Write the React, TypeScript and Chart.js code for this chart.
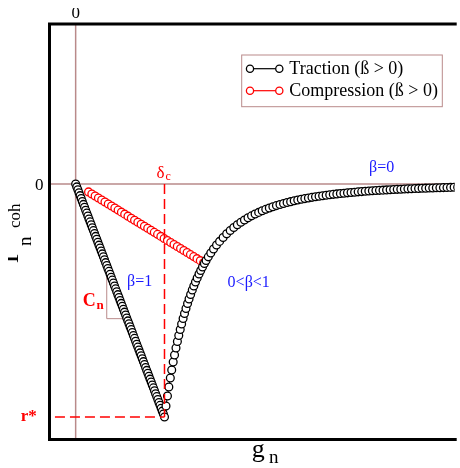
import { useEffect, useRef } from "react";
import { Chart, registerables } from "chart.js";

Chart.register(...registerables);

// Linear loading branch: gap g_n vs cohesive traction r_n (normalised so that δc = 1, r* = -1)
const loadingG = [
  0, 0.0125, 0.025, 0.0375, 0.05, 0.0625, 0.075, 0.0875, 0.1, 0.1125, 0.125, 0.1375, 0.15, 0.1625,
  0.175, 0.1875, 0.2, 0.2125, 0.225, 0.2375, 0.25, 0.2625, 0.275, 0.2875, 0.3, 0.3125, 0.325, 0.3375,
  0.35, 0.3625, 0.375, 0.3875, 0.4, 0.4125, 0.425, 0.4375, 0.45, 0.4625, 0.475, 0.4875, 0.5, 0.5125,
  0.525, 0.5375, 0.55, 0.5625, 0.575, 0.5875, 0.6, 0.6125, 0.625, 0.6375, 0.65, 0.6625, 0.675, 0.6875,
  0.7, 0.7125, 0.725, 0.7375, 0.75, 0.7625, 0.775, 0.7875, 0.8, 0.8125, 0.825, 0.8375, 0.85, 0.8625,
  0.875, 0.8875, 0.9, 0.9125, 0.925, 0.9375, 0.95, 0.9625, 0.975, 0.9875, 1,
];
const loadingR = [
  0, -0.0125, -0.025, -0.0375, -0.05, -0.0625, -0.075, -0.0875, -0.1, -0.1125, -0.125, -0.1375, -0.15, -0.1625,
  -0.175, -0.1875, -0.2, -0.2125, -0.225, -0.2375, -0.25, -0.2625, -0.275, -0.2875, -0.3, -0.3125, -0.325, -0.3375,
  -0.35, -0.3625, -0.375, -0.3875, -0.4, -0.4125, -0.425, -0.4375, -0.45, -0.4625, -0.475, -0.4875, -0.5, -0.5125,
  -0.525, -0.5375, -0.55, -0.5625, -0.575, -0.5875, -0.6, -0.6125, -0.625, -0.6375, -0.65, -0.6625, -0.675, -0.6875,
  -0.7, -0.7125, -0.725, -0.7375, -0.75, -0.7625, -0.775, -0.7875, -0.8, -0.8125, -0.825, -0.8375, -0.85, -0.8625,
  -0.875, -0.8875, -0.9, -0.9125, -0.925, -0.9375, -0.95, -0.9625, -0.975, -0.9875, -1,
];

// Softening branch after δc
const softeningG = [
  1.0169, 1.0333, 1.049, 1.0656, 1.0812, 1.0978, 1.1131, 1.1294, 1.1452, 1.1607, 1.177, 1.1928, 1.2094,
  1.2253, 1.242, 1.2597, 1.2764, 1.2941, 1.3127, 1.3302, 1.3487, 1.3681, 1.3886, 1.4077, 1.4278, 1.4491,
  1.4683, 1.493, 1.521, 1.552, 1.586,
  1.62, 1.66, 1.7, 1.74, 1.78, 1.82, 1.86, 1.9, 1.94, 1.98, 2.02, 2.06, 2.1, 2.14, 2.18, 2.22, 2.26, 2.3,
  2.34, 2.38, 2.42, 2.46, 2.5, 2.54, 2.58, 2.62, 2.66, 2.7, 2.74, 2.78, 2.82, 2.86, 2.9, 2.94, 2.98, 3.02,
  3.06, 3.1, 3.14, 3.18, 3.22, 3.26, 3.3, 3.34, 3.38, 3.42, 3.46, 3.5, 3.54, 3.58, 3.62, 3.66, 3.7, 3.74,
  3.78, 3.82, 3.86, 3.9, 3.94, 3.98, 4.02, 4.06, 4.1, 4.14, 4.18, 4.22, 4.26, 4.3,
];
const softeningR = [
  -0.9528, -0.9099, -0.8712, -0.8326, -0.7983, -0.7639, -0.7339, -0.7039, -0.676, -0.6502, -0.6245, -0.6009,
  -0.5773, -0.5558, -0.5343, -0.5129, -0.4936, -0.4742, -0.4549, -0.4378, -0.4206, -0.4034, -0.3863, -0.3712,
  -0.3562, -0.3412, -0.3283, -0.3127, -0.2962, -0.2793, -0.2621,
  -0.2464, -0.2294, -0.2139, -0.1999, -0.187, -0.1752, -0.1644, -0.1544, -0.1452, -0.1368, -0.129, -0.1218,
  -0.1151, -0.1089, -0.1031, -0.0977, -0.0927, -0.088, -0.0837, -0.0796, -0.0758, -0.0722, -0.0688, -0.0657,
  -0.0627, -0.0599, -0.0573, -0.0549, -0.0525, -0.0503, -0.0482, -0.0463, -0.0444, -0.0426, -0.041, -0.0394,
  -0.0379, -0.0365, -0.0351, -0.0338, -0.0326, -0.0314, -0.0303, -0.0292, -0.0282, -0.0273, -0.0263, -0.0254,
  -0.0246, -0.0238, -0.023, -0.0223, -0.0216, -0.0209, -0.0203, -0.0196, -0.019, -0.0185, -0.0179, -0.0174,
  -0.0169, -0.0164, -0.0159, -0.0155, -0.015, -0.0146, -0.0142, -0.0138,
];

// Compression (unloading towards the origin)
const compressionG = [
  0.145, 0.182, 0.219, 0.256, 0.293, 0.33, 0.367, 0.404, 0.441, 0.478, 0.515, 0.552, 0.589, 0.626, 0.663,
  0.7, 0.737, 0.774, 0.811, 0.848, 0.885, 0.922, 0.959, 0.996, 1.033, 1.07, 1.107, 1.144, 1.181, 1.218,
  1.255, 1.292, 1.329, 1.366, 1.403, 1.44,
];
const compressionR = [
  -0.034, -0.0427, -0.0514, -0.06, -0.0687, -0.0774, -0.0861, -0.0947, -0.1034, -0.1121, -0.1208, -0.1294,
  -0.1381, -0.1468, -0.1555, -0.1642, -0.1728, -0.1815, -0.1902, -0.1989, -0.2075, -0.2162, -0.2249, -0.2336,
  -0.2422, -0.2509, -0.2596, -0.2683, -0.2769, -0.2856, -0.2943, -0.303, -0.3117, -0.3203, -0.329, -0.3377,
];

const seriesNames = ["Traction (ß > 0)", "Compression (ß > 0)"];
const seriesColors = ["#000000", "#ff0000"];

const deltaC = 1;
const rStar = -1;
const gMin = -0.2944;
const gMax = 4.2667;
const rMin = -1.0966;
const rMax = 0.6867;

const regimeLabels = [
  { text: "β=0", g: 3.444, r: 0.0536 },
  { text: "β=1", g: 0.72, r: -0.4378 },
  { text: "0<β<1", g: 1.948, r: -0.44 },
];

const SERIF = '"Liberation Serif", "Times New Roman", Times, serif';
const BROWN = "#b98a8a";
const RED = "#ff0000";
const BLUE = "#1a1aff";
const MARKER_R = 3.9;

const toPoints = (gs: number[], rs: number[]) => gs.map((g, i) => ({ x: g, y: rs[i] }));

function drawMarker(ctx: CanvasRenderingContext2D, x: number, y: number, color: string) {
  ctx.beginPath();
  ctx.arc(x, y, 3.6, 0, Math.PI * 2);
  ctx.fillStyle = "#fff";
  ctx.fill();
  ctx.lineWidth = 1.3;
  ctx.strokeStyle = color;
  ctx.stroke();
}

const decorations = {
  id: "decorations",
  beforeDatasetsDraw(chart: any) {
    const { ctx, chartArea: a } = chart;
    const xs = chart.scales.x;
    const ys = chart.scales.y;
    const x0 = xs.getPixelForValue(0);
    const y0 = ys.getPixelForValue(0);
    ctx.save();
    ctx.strokeStyle = BROWN;
    ctx.lineWidth = 1.5;
    ctx.beginPath();
    ctx.moveTo(x0, a.top);
    ctx.lineTo(x0, a.bottom);
    ctx.moveTo(a.left, y0);
    ctx.lineTo(a.right, y0);
    ctx.stroke();

    // slope triangle on the loading branch
    const g1 = 0.35;
    const g2 = 0.578;
    ctx.lineWidth = 1;
    ctx.beginPath();
    ctx.moveTo(xs.getPixelForValue(g1), ys.getPixelForValue(-g1));
    ctx.lineTo(xs.getPixelForValue(g1), ys.getPixelForValue(-g2));
    ctx.lineTo(xs.getPixelForValue(g2), ys.getPixelForValue(-g2));
    ctx.stroke();
    ctx.restore();
  },
  afterDatasetsDraw(chart: any) {
    const { ctx, chartArea: a } = chart;
    const xs = chart.scales.x;
    const ys = chart.scales.y;
    const x0 = xs.getPixelForValue(0);
    const y0 = ys.getPixelForValue(0);
    const xc = xs.getPixelForValue(deltaC);
    const yStar = ys.getPixelForValue(rStar);
    ctx.save();

    // δc and r* guide lines
    ctx.strokeStyle = RED;
    ctx.lineWidth = 1.5;
    ctx.setLineDash([10, 5]);
    ctx.beginPath();
    ctx.moveTo(xc, y0);
    ctx.lineTo(xc, yStar);
    ctx.moveTo(xs.getPixelForValue(-0.233), yStar);
    ctx.lineTo(xc, yStar);
    ctx.stroke();
    ctx.setLineDash([]);

    // frame (left, top, bottom)
    ctx.strokeStyle = "#000";
    ctx.lineWidth = 3;
    ctx.lineJoin = "miter";
    ctx.beginPath();
    ctx.moveTo(a.right + 2, a.top);
    ctx.lineTo(a.left, a.top);
    ctx.lineTo(a.left, a.bottom);
    ctx.lineTo(a.right + 2, a.bottom);
    ctx.stroke();

    ctx.textBaseline = "alphabetic";
    // zero labels
    ctx.fillStyle = "#000";
    ctx.font = `17px ${SERIF}`;
    ctx.textAlign = "center";
    ctx.fillText("0", x0, a.top - 5.7);
    ctx.textAlign = "right";
    ctx.fillText("0", a.left - 6, y0 + 6);

    // axis titles
    ctx.textAlign = "left";
    ctx.font = `26px ${SERIF}`;
    ctx.fillText("g", 243.7, 448.5);
    ctx.font = `19px ${SERIF}`;
    ctx.fillText("n", 261, 455);

    ctx.save();
    ctx.translate(10, 255);
    ctx.rotate(-Math.PI / 2);
    ctx.save();
    ctx.scale(1.2, 1);
    ctx.font = `29px ${SERIF}`;
    ctx.fillText("r", 0, 0);
    ctx.restore();
    ctx.font = `19px ${SERIF}`;
    ctx.fillText("n", 17, 13);
    ctx.font = `17px ${SERIF}`;
    ctx.fillText("coh", 35, 2);
    ctx.restore();

    // δc, r*, Cn
    ctx.fillStyle = RED;
    ctx.font = `17px ${SERIF}`;
    ctx.fillText("δ", xc - 8, y0 - 6);
    ctx.font = `12px ${SERIF}`;
    ctx.fillText("c", xc + 1, y0 - 3.5);

    ctx.font = `bold 17px ${SERIF}`;
    ctx.textAlign = "right";
    ctx.fillText("r*", a.left - 12.8, yStar + 4.5);

    const triX = xs.getPixelForValue(0.35);
    const triY = ys.getPixelForValue(-0.578);
    ctx.font = `bold 13px ${SERIF}`;
    ctx.fillText("n", triX - 3, triY - 10);
    ctx.font = `bold 18px ${SERIF}`;
    ctx.fillText("C", triX - 11, triY - 12.5);

    // β regimes
    ctx.fillStyle = BLUE;
    ctx.font = `16px ${SERIF}`;
    ctx.textAlign = "center";
    for (const lb of regimeLabels) {
      ctx.fillText(lb.text, xs.getPixelForValue(lb.g), ys.getPixelForValue(lb.r));
    }

    // legend
    const bx = 233.7;
    const by = 47;
    ctx.strokeStyle = BROWN;
    ctx.lineWidth = 1;
    ctx.fillStyle = "#fff";
    ctx.fillRect(bx, by, 200.6, 51.7);
    ctx.strokeRect(bx, by, 200.6, 51.7);
    chart.data.datasets.forEach((ds: any, i: number) => {
      const cy = 60.7 + i * 22;
      const color = seriesColors[i];
      ctx.strokeStyle = color;
      ctx.lineWidth = 1.2;
      ctx.beginPath();
      ctx.moveTo(242, cy);
      ctx.lineTo(271.3, cy);
      ctx.stroke();
      drawMarker(ctx, 242, cy, color);
      drawMarker(ctx, 271.3, cy, color);
      ctx.fillStyle = "#000";
      ctx.font = `18px ${SERIF}`;
      ctx.textAlign = "left";
      ctx.fillText(ds.label, 281.3, cy + 5.5);
    });

    ctx.restore();
  },
};

export default function App() {
  const canvasRef = useRef<HTMLCanvasElement | null>(null);

  useEffect(() => {
    const canvas = canvasRef.current;
    if (!canvas) return;
    const traction = [...toPoints(loadingG, loadingR), ...toPoints(softeningG, softeningR)];
    const compression = toPoints(compressionG, compressionR);
    const pointStyle = (color: string) => ({
      borderColor: color,
      borderWidth: 1,
      pointRadius: MARKER_R,
      pointBorderWidth: 1.3,
      pointBorderColor: color,
      pointBackgroundColor: "#ffffff",
      showLine: true,
      tension: 0,
    });
    const chart = new Chart(canvas, {
      type: "scatter",
      data: {
        datasets: [
          { label: seriesNames[0], data: traction, ...pointStyle(seriesColors[0]) },
          { label: seriesNames[1], data: compression, ...pointStyle(seriesColors[1]) },
        ],
      },
      options: {
        animation: false,
        responsive: false,
        devicePixelRatio: 1,
        events: [],
        layout: { padding: { left: 41.5, top: 16, right: 0, bottom: 28.5 } },
        plugins: { legend: { display: false }, tooltip: { enabled: false } },
        scales: {
          x: { type: "linear", display: false, min: gMin, max: gMax },
          y: { type: "linear", display: false, min: rMin, max: rMax },
        },
      },
      plugins: [decorations],
    });
    return () => chart.destroy();
  }, []);

  return (
    <canvas
      ref={canvasRef}
      width={452}
      height={460}
      style={{ display: "block", position: "absolute", left: 8, top: 8 }}
    />
  );
}
